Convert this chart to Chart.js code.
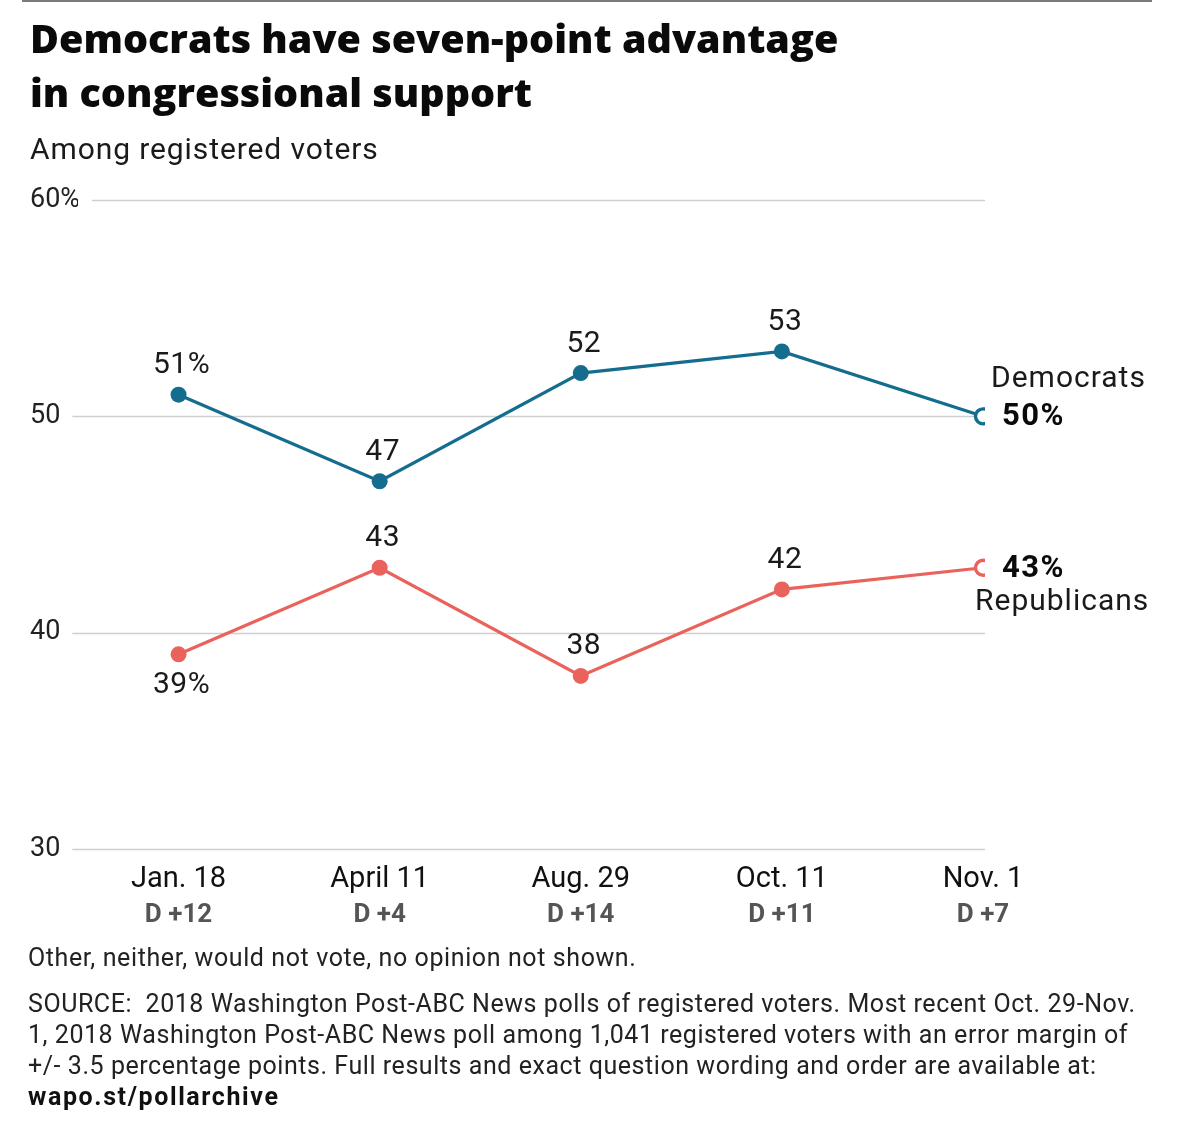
<!DOCTYPE html>
<html>
<head>
<meta charset="utf-8">
<script src="https://cdn.jsdelivr.net/npm/chart.js@4.4.1/dist/chart.umd.min.js"></script>
<style>
  body { margin: 0; background: #fff; font-family: Roboto, "Liberation Sans", sans-serif; color: #111; }
  #wrap { position: relative; width: 1200px; height: 1122px; overflow: hidden; }
  #chart { position: absolute; left: 0; top: 0; }
  .txt { position: absolute; left: 30px; white-space: nowrap; }
  #topline { position: absolute; left: 22px; top: 0; width: 1130px; height: 2px; background: #7a7a7a; }
  #title { top: 11px; font-family: "Open Sans", Roboto, sans-serif; font-size: 39.5px; font-weight: 800; line-height: 54px; color: #0a0a0a; }
  #subtitle { top: 131px; font-size: 30px; font-weight: 400; letter-spacing: 0.9px; color: #1a1a1a; }
  #note { left: 28px; top: 943px; font-size: 25px; letter-spacing: 0.6px; color: #222; }
  #source { left: 28px; top: 988px; font-size: 25px; line-height: 31px; letter-spacing: 0.55px; color: #222; }
  #source b { color: #111; letter-spacing: 1.6px; }
</style>
</head>
<body>
<div id="wrap">
  <canvas id="chart" width="1200" height="1122"></canvas>
  <div id="topline"></div>
  <div class="txt" id="title">Democrats have seven-point advantage<br>in congressional support</div>
  <div class="txt" id="subtitle">Among registered voters</div>
  <div class="txt" id="note">Other, neither, would not vote, no opinion not shown.</div>
  <div class="txt" id="source">SOURCE:&nbsp; 2018 Washington Post-ABC News polls of registered voters. Most recent Oct. 29-Nov.<br>1, 2018 Washington Post-ABC News poll among 1,041 registered voters with an error margin of<br>+/- 3.5 percentage points. Full results and exact question wording and order are available at:<br><b>wapo.st/pollarchive</b></div>
</div>
<script>
// poll dates and Democratic margin
const dates = ["Jan. 18", "April 11", "Aug. 29", "Oct. 11", "Nov. 1"];
const margins = ["D +12", "D +4", "D +14", "D +11", "D +7"];
const democrats = [51, 47, 52, 53, 50];
const republicans = [39, 43, 38, 42, 43];
const yTicks = [30, 40, 50, 60];

const BLUE = "#146c8e";
const RED = "#ea625c";
const FONT = "Roboto, 'Liberation Sans', sans-serif";

function pts(arr) {
    return arr.map((v, i) => ({ x: i, y: v }));
}

const lastIdx = dates.length - 1;

function pointStyle(color) {
    return {
        borderColor: color,
        borderWidth: 3.2,
        pointRadius: ctx => ctx.dataIndex === lastIdx ? 7.5 : 8,
        pointBackgroundColor: ctx => ctx.dataIndex === lastIdx ? "#fff" : color,
        pointBorderColor: color,
        pointBorderWidth: ctx => ctx.dataIndex === lastIdx ? 3.4 : 0,
        pointHoverRadius: 8,
        tension: 0,
        fill: false
    };
}

// grid lines start just after each tick label
const gridPlugin = {
    id: "gridLines",
    beforeDatasetsDraw(chart) {
        const y = chart.scales.y;
        const ctx = chart.ctx;
        ctx.save();
        ctx.font = `27px ${FONT}`;
        ctx.strokeStyle = "#cfcfcf";
        ctx.lineWidth = 1.5;
        y.ticks.forEach(t => {
            const label = t.value === 60 ? "60%" : String(t.value);
            const x0 = y.left + ctx.measureText(label).width + 12;
            const py = Math.round(y.getPixelForValue(t.value)) + 0.5;
            ctx.beginPath();
            ctx.moveTo(x0, py);
            ctx.lineTo(985, py);
            ctx.stroke();
        });
        ctx.restore();
    }
};

// value labels beside the points
const labelPlugin = {
    id: "valueLabels",
    afterDatasetsDraw(chart) {
        const ctx = chart.ctx;
        ctx.save();
        ctx.textBaseline = "middle";
        ctx.fillStyle = "#1a1a1a";
        chart.data.datasets.forEach((ds, di) => {
            const meta = chart.getDatasetMeta(di);
            meta.data.forEach((p, i) => {
                const v = ds.data[i].y;
                if (i === lastIdx) {
                    ctx.textAlign = "left";
                    ctx.font = `bold 31px ${FONT}`;
                    ctx.letterSpacing = "1.5px";
                    ctx.fillStyle = "#0a0a0a";
                    ctx.fillText(v + "%", p.x + 19, p.y + 1);
                    ctx.font = `30px ${FONT}`;
                    ctx.letterSpacing = "1px";
                    ctx.fillStyle = "#1a1a1a";
                    if (di === 0) ctx.fillText(ds.label, p.x + 8, p.y - 37);
                    else ctx.fillText(ds.label, p.x - 8, p.y + 35);
                    return;
                }
                ctx.textAlign = "center";
                ctx.font = `30px ${FONT}`;
                ctx.letterSpacing = "0.5px";
                const txt = i === 0 ? v + "%" : String(v);
                const below = ds.labelBelow && ds.labelBelow[i];
                ctx.fillText(txt, p.x + 3, below ? p.y + 31 : p.y - 29);
            });
        });
        ctx.restore();
    }
};

new Chart(document.getElementById("chart"), {
    type: "line",
    data: {
        datasets: [
            Object.assign({ label: "Democrats", data: pts(democrats) }, pointStyle(BLUE)),
            Object.assign({ label: "Republicans", data: pts(republicans), labelBelow: [true] }, pointStyle(RED))
        ]
    },
    options: {
        responsive: false,
        animation: false,
        events: [],
        layout: { padding: { left: 30, top: 200, right: 215, bottom: 188 } },
        plugins: { legend: { display: false }, tooltip: { enabled: false } },
        scales: {
            x: {
                type: "linear",
                position: "bottom",
                min: -0.5,
                max: 4.01,
                afterBuildTicks: s => { s.ticks = dates.map((d, i) => ({ value: i })); },
                afterFit: s => { s.height = 48; },
                grid: { display: false, drawTicks: false },
                border: { display: false },
                ticks: {
                    callback: v => dates[v],
                    padding: 13,
                    color: "#111",
                    font: { family: FONT, size: 29 },
                    maxRotation: 0,
                    autoSkip: false
                }
            },
            x2: {
                type: "linear",
                position: "bottom",
                min: -0.5,
                max: 4.01,
                afterBuildTicks: s => { s.ticks = margins.map((d, i) => ({ value: i })); },
                afterFit: s => { s.height = 37; },
                grid: { display: false, drawTicks: false },
                border: { display: false },
                ticks: {
                    callback: v => margins[v],
                    padding: 3,
                    color: "#555",
                    font: { family: FONT, size: 26, weight: "bold" },
                    maxRotation: 0,
                    autoSkip: false
                }
            },
            y: {
                min: 30,
                max: 60,
                afterBuildTicks: s => { s.ticks = yTicks.map(v => ({ value: v })); },
                afterFit: s => { s.width = 48; },
                grid: { display: false, drawTicks: false },
                border: { display: false },
                ticks: {
                    callback: v => v === 60 ? "60%" : v,
                    crossAlign: "far",
                    padding: 0,
                    color: "#222",
                    font: { family: FONT, size: 27 }
                }
            }
        }
    },
    plugins: [gridPlugin, labelPlugin]
});
</script>
</body>
</html>
